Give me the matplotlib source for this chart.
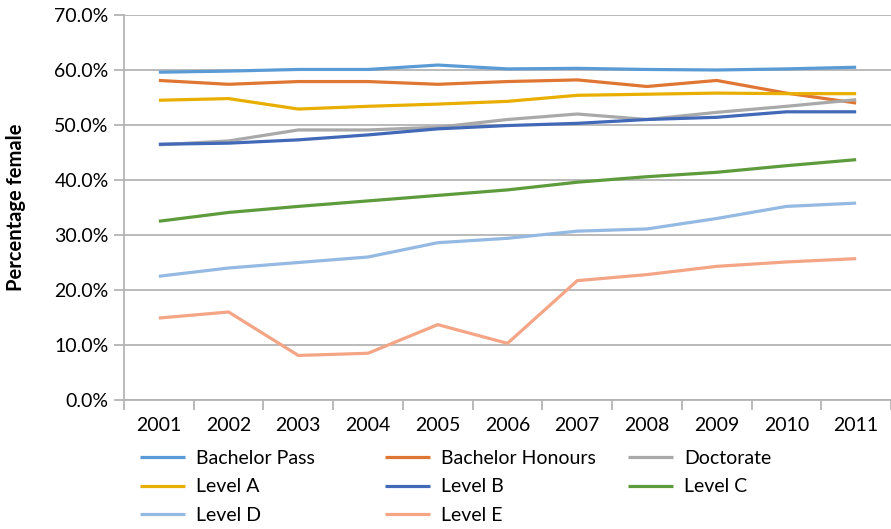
import matplotlib
matplotlib.use("Agg")
import matplotlib.pyplot as plt
from matplotlib.ticker import FuncFormatter, FixedLocator

plt.rcParams['font.family'] = ['Lato', 'DejaVu Sans']

years = ['2001', '2002', '2003', '2004', '2005', '2006', '2007', '2008', '2009', '2010', '2011']

bachelor_pass = [59.6, 59.8, 60.1, 60.1, 60.9, 60.2, 60.3, 60.1, 60.0, 60.2, 60.5]
bachelor_honours = [58.1, 57.4, 57.9, 57.9, 57.4, 57.9, 58.2, 57.0, 58.1, 55.8, 54.0]
doctorate = [46.4, 47.1, 49.1, 49.1, 49.6, 51.0, 52.0, 51.0, 52.3, 53.4, 54.6]
level_a = [54.5, 54.8, 52.9, 53.4, 53.8, 54.3, 55.4, 55.6, 55.8, 55.7, 55.7]
level_b = [46.5, 46.7, 47.3, 48.2, 49.3, 49.9, 50.3, 51.0, 51.4, 52.4, 52.4]
level_c = [32.5, 34.1, 35.2, 36.2, 37.2, 38.2, 39.6, 40.6, 41.4, 42.6, 43.7]
level_d = [22.5, 24.0, 25.0, 26.0, 28.6, 29.4, 30.7, 31.1, 33.0, 35.2, 35.8]
level_e = [14.9, 16.0, 8.1, 8.5, 13.7, 10.3, 21.7, 22.8, 24.3, 25.1, 25.7]

series = [
    ('Bachelor Pass', bachelor_pass, '#5B9BD5'),
    ('Bachelor Honours', bachelor_honours, '#E07633'),
    ('Doctorate', doctorate, '#A9A9A9'),
    ('Level A', level_a, '#E8AE00'),
    ('Level B', level_b, '#4169B8'),
    ('Level C', level_c, '#5E9B3C'),
    ('Level D', level_d, '#94B9E2'),
    ('Level E', level_e, '#F3A585'),
]

fig = plt.figure(figsize=(8.91, 5.29), dpi=100)
ax = fig.add_axes([124 / 891, 1 - 400 / 529, (891 - 124) / 891, (400 - 15) / 529])

x = list(range(len(years)))
lines = []
for name, vals, color in series:
    ln, = ax.plot(x, vals, color=color, lw=2.3, label=name, solid_capstyle='butt')
    lines.append(ln)

ax.set_xlim(-0.5, len(years) - 0.5)
ax.set_ylim(0, 70)
ax.set_yticks(range(0, 71, 10))
ax.yaxis.set_major_formatter(FuncFormatter(lambda v, p: f'{v:.1f}%'))
ax.grid(axis='y', color='#B4B4B4', lw=1.3)
ax.set_axisbelow(True)

ax.set_xticks(x)
ax.set_xticklabels(years)
ax.xaxis.set_minor_locator(FixedLocator([i - 0.5 for i in range(len(years) + 1)]))
ax.tick_params(axis='x', which='major', length=0, pad=12, labelsize=14)
ax.tick_params(axis='x', which='minor', length=7, width=1.3, color='#B4B4B4', direction='out')
ax.tick_params(axis='y', length=7, width=1.3, color='#B4B4B4', labelsize=14, pad=4)

for side in ['top', 'right']:
    ax.spines[side].set_visible(False)
for side in ['left', 'bottom']:
    ax.spines[side].set_color('#B4B4B4')
    ax.spines[side].set_linewidth(1.3)

ax.set_ylabel('Percentage female', fontsize=14.5, fontweight='bold')
ax.yaxis.set_label_coords(-0.128, 0.5)

# Legend laid out row by row in three fixed-width columns
col_x = [132, 377, 620]
for c in range(3):
    idx = list(range(c, len(lines), 3))
    fig.legend([lines[i] for i in idx], [series[i][0] for i in idx],
               loc='upper left', bbox_to_anchor=(col_x[c] / 891, 1 - 442 / 529),
               frameon=False, fontsize=14, handlelength=2.3, handletextpad=0.6,
               labelspacing=0.6, borderaxespad=0, borderpad=0.4)

fig.savefig('out.png', dpi=100)
